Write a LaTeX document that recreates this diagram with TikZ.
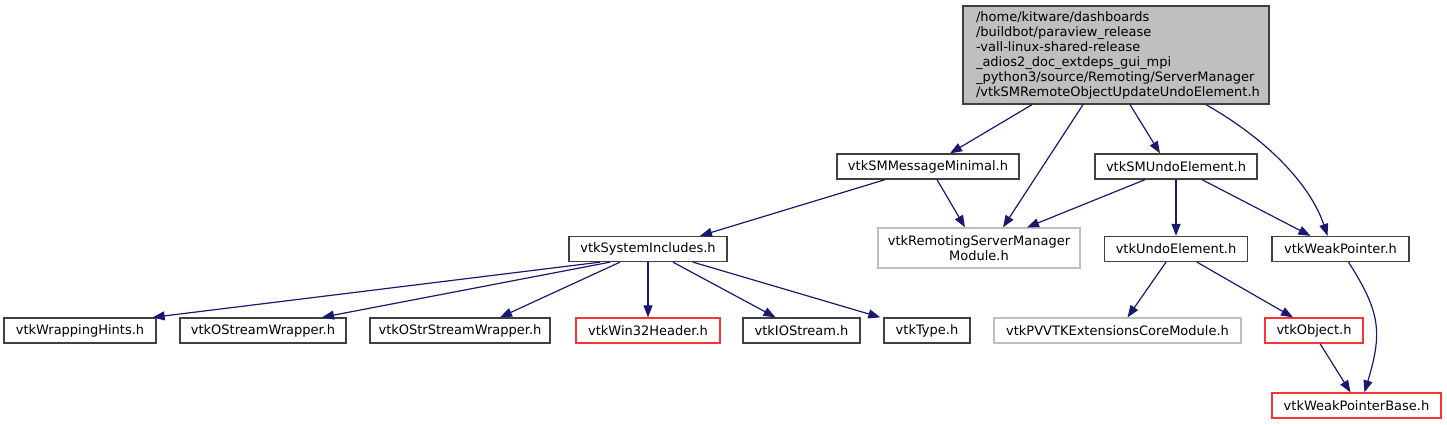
\documentclass[tikz,border=0pt]{standalone}
\usepackage{fontspec}
\setmainfont{DejaVu Sans}
\usetikzlibrary{arrows.meta}
\definecolor{edgeblue}{HTML}{191970}
\definecolor{boxdark}{HTML}{404040}
\definecolor{extgray}{HTML}{BFBFBF}
\definecolor{rootfill}{HTML}{BFBFBF}
\definecolor{hdrred}{HTML}{FF3333}
\tikzset{
  filebox/.style={
    draw=boxdark,
    line width=1.3pt,
    fill=white,
    minimum height=25pt,
    inner sep=0pt,
    align=center,
    font=\fontsize{13}{15}\selectfont
  },
  rootbox/.style={filebox, fill=rootfill, minimum height=98pt, text width=280pt, align=left, inner xsep=13pt},
  extbox/.style={filebox, draw=extgray},
  redbox/.style={filebox, draw=hdrred},
  dep/.style={-{Triangle[length=12pt,width=9pt]}, line width=1.2pt, color=edgeblue}
}

\begin{document}
\begin{tikzpicture}[x=1pt,y=-1pt]
\useasboundingbox (0,0) rectangle (1447,424);
% top level
\node[rootbox] (root) at (1116,55) {/home/kitware/dashboards\\/buildbot/paraview\_release\\-vall-linux-shared-release\\\_adios2\_doc\_extdeps\_gui\_mpi\\\_python3/source/Remoting/ServerManager\\/vtkSMRemoteObjectUpdateUndoElement.h};
% second row
\node[filebox, minimum width=182pt] (msgmin) at (928,166.5) {vtkSMMessageMinimal.h};
\node[filebox, minimum width=162pt] (smundo) at (1176,166.5) {vtkSMUndoElement.h};
% third row
\node[filebox, minimum width=158pt] (sysinc) at (648,249) {vtkSystemIncludes.h};
\node[extbox, minimum width=202pt, minimum height=40pt] (remod) at (979,248) {vtkRemotingServerManager\\Module.h};
\node[filebox, minimum width=143pt] (undoel) at (1176,249) {vtkUndoElement.h};
\node[filebox, minimum width=137pt] (weakptr) at (1340.5,249) {vtkWeakPointer.h};
% fourth row
\node[filebox, minimum width=152pt] (wraphints) at (80,330.5) {vtkWrappingHints.h};
\node[filebox, minimum width=166pt] (ostream) at (263,330.5) {vtkOStreamWrapper.h};
\node[filebox, minimum width=180pt] (ostrstream) at (460,330.5) {vtkOStrStreamWrapper.h};
\node[redbox, minimum width=144pt] (win32) at (648,330.5) {vtkWin32Header.h};
\node[filebox, minimum width=117pt] (iostream) at (801.5,330.5) {vtkIOStream.h};
\node[filebox, minimum width=86pt] (vtktype) at (927,330.5) {vtkType.h};
\node[extbox, minimum width=247pt] (pvvtk) at (1117.5,330.5) {vtkPVVTKExtensionsCoreModule.h};
\node[redbox, minimum width=98pt] (vtkobj) at (1314,330.5) {vtkObject.h};
% bottom
\node[redbox, minimum width=169pt] (wpbase) at (1356.5,405.5) {vtkWeakPointerBase.h};
% includes
\draw[dep] ([xshift=-84pt]root.south) -- ([xshift=22pt]msgmin.north);
\draw[dep] ([xshift=-33pt]root.south) -- ([xshift=24pt]remod.north);
\draw[dep] ([xshift=14pt]root.south) -- ([xshift=-16pt]smundo.north);
\draw[dep] ([xshift=90pt]root.south) .. controls +(70,40) and +(-15,-45) .. ([xshift=-13pt]weakptr.north);
\draw[dep] ([xshift=-43pt]msgmin.south) -- ([xshift=52pt]sysinc.north);
\draw[dep] ([xshift=9pt]msgmin.south) -- ([xshift=-14pt]remod.north);
\draw[dep] ([xshift=-31pt]smundo.south) -- ([xshift=48pt]remod.north);
\draw[dep] (smundo.south) -- (undoel.north);
\draw[dep] ([xshift=26pt]smundo.south) -- ([xshift=-30pt]weakptr.north);
\draw[dep] ([xshift=-48pt]sysinc.south) -- ([xshift=-4pt]wraphints.north east);
\draw[dep] ([xshift=-38pt]sysinc.south) -- ([xshift=59pt]ostream.north);
\draw[dep] ([xshift=-28pt]sysinc.south) -- ([xshift=40pt]ostrstream.north);
\draw[dep] (sysinc.south) -- (win32.north);
\draw[dep] ([xshift=25pt]sysinc.south) -- ([xshift=-26pt]iostream.north);
\draw[dep] ([xshift=45pt]sysinc.south) -- ([xshift=-3pt]vtktype.north west);
\draw[dep] ([xshift=-10pt]undoel.south) -- ([xshift=10pt]pvvtk.north);
\draw[dep] ([xshift=21pt]undoel.south) -- ([xshift=-21pt]vtkobj.north);
\draw[dep] ([xshift=8pt]weakptr.south) .. controls +(32,50) and +(18,-60) .. ([xshift=8pt]wpbase.north);
\draw[dep] ([xshift=6pt]vtkobj.south) -- ([xshift=-6pt]wpbase.north);
\end{tikzpicture}
\end{document}
